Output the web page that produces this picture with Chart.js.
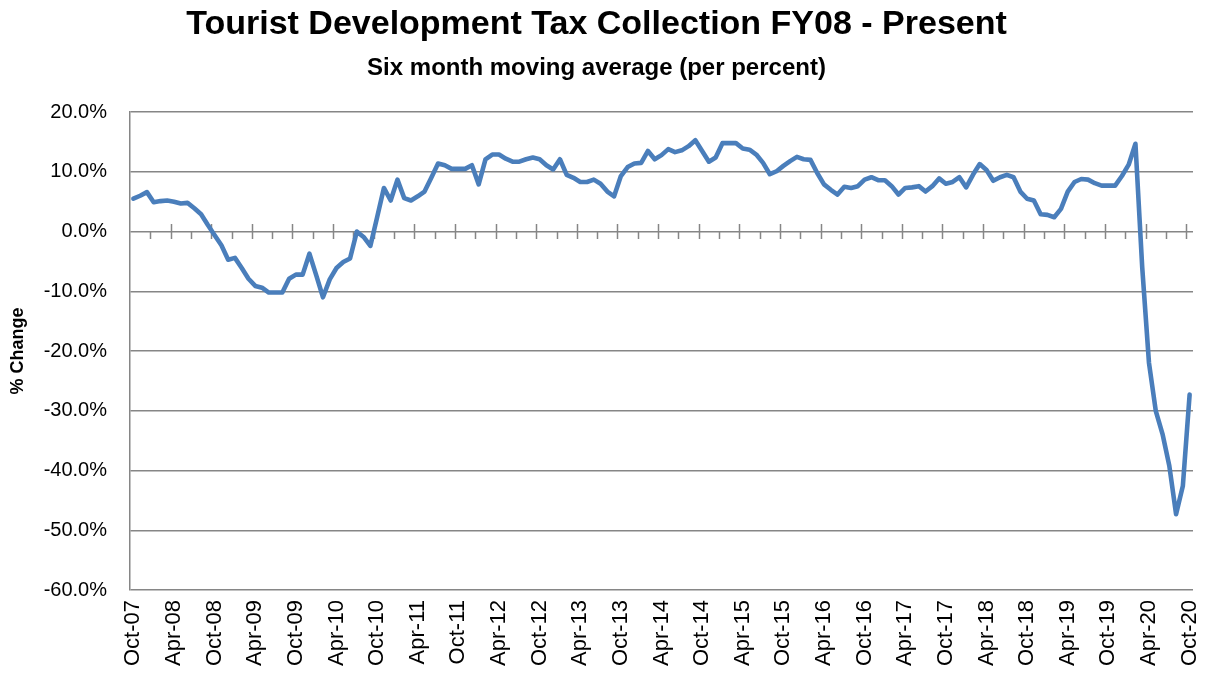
<!DOCTYPE html>
<html>
<head>
<meta charset="utf-8">
<title>Tourist Development Tax Collection FY08 - Present</title>
<script src="https://cdn.jsdelivr.net/npm/chart.js@4.4.1/dist/chart.umd.min.js"></script>
<style>
  html, body { margin: 0; padding: 0; background: #fff; }
  canvas { display: block; }
</style>
</head>
<body>
<canvas id="tdt" width="1209" height="673"></canvas>
<script>
// monthly categories, Oct-07 .. Oct-20
const monthNames = ["Jan", "Feb", "Mar", "Apr", "May", "Jun", "Jul", "Aug", "Sep", "Oct", "Nov", "Dec"];
const months = [];
for (let yr = 2007; yr <= 2020; yr++) {
  for (let m = 0; m < 12; m++) {
    if (yr === 2007 && m < 9) continue;
    if (yr === 2020 && m > 9) continue;
    months.push(monthNames[m] + "-" + String(yr).slice(2));
  }
}

// labels shown on the axis (every six months)
const tickLabels = [
  "Oct-07", "Apr-08", "Oct-08", "Apr-09", "Oct-09", "Apr-10", "Oct-10", "Apr-11", "Oct-11",
  "Apr-12", "Oct-12", "Apr-13", "Oct-13", "Apr-14", "Oct-14", "Apr-15", "Oct-15", "Apr-16",
  "Oct-16", "Apr-17", "Oct-17", "Apr-18", "Oct-18", "Apr-19", "Oct-19", "Apr-20", "Oct-20"
];

// six month moving average, % change
const pctChange = [
  5.5, 6.0, 6.6, 4.9, 5.1, 5.2, 5.0, 4.7, 4.8, 3.9, 2.9, 1.1,
  -0.6, -2.3, -4.7, -4.4, -6.1, -7.9, -9.1, -9.4, -10.2, -10.2, -10.2, -7.9,
  -7.2, -7.2, -3.7, -7.3, -11.0, -8.0, -6.1, -5.1, -4.5, 0.0, -0.9, -2.4,
  2.4, 7.3, 5.2, 8.7, 5.6, 5.2, 5.9, 6.7, 9.0, 11.4, 11.1, 10.5,
  10.5, 10.5, 11.1, 7.9, 12.1, 12.9, 12.9, 12.2, 11.7, 11.7, 12.1, 12.4,
  12.1, 11.1, 10.4, 12.1, 9.5, 9.0, 8.3, 8.3, 8.7, 8.0, 6.7, 5.9,
  9.3, 10.8, 11.4, 11.5, 13.5, 12.1, 12.8, 13.8, 13.3, 13.6, 14.3, 15.3,
  13.5, 11.7, 12.4, 14.8, 14.8, 14.8, 13.9, 13.7, 12.9, 11.5, 9.6, 10.1,
  11.0, 11.8, 12.5, 12.1, 12.0, 9.8, 7.9, 7.0, 6.2, 7.5, 7.3, 7.6,
  8.7, 9.1, 8.6, 8.6, 7.6, 6.2, 7.3, 7.4, 7.6, 6.7, 7.6, 8.9,
  8.0, 8.3, 9.1, 7.4, 9.5, 11.3, 10.3, 8.5, 9.1, 9.5, 9.1, 6.7,
  5.5, 5.2, 2.9, 2.8, 2.4, 3.8, 6.7, 8.3, 8.8, 8.7, 8.1, 7.7,
  7.7, 7.7, 9.3, 11.2, 14.7, -6.0, -22.0, -30.0, -33.9, -39.2, -47.3, -42.6,
  -27.3
];

const gridColour = "#868686";
const lineColour = "rgb(74, 126, 187)";

// small tick marks along the 0% line: long ones every 6 months, short ones in between
const zeroTicks = {
  id: "zeroTicks",
  beforeDatasetsDraw(chart) {
    const { ctx, scales: { x, y } } = chart;
    const y0 = Math.round(y.getPixelForValue(0));
    ctx.save();
    ctx.strokeStyle = gridColour;
    ctx.lineWidth = 1.5;
    ctx.beginPath();
    for (let k = 3; k < months.length; k += 3) {
      const px = Math.round(x.getPixelForValue(k - 0.5)) + 0.5;
      ctx.moveTo(px, k % 6 === 0 ? y0 - 8 : y0);
      ctx.lineTo(px, y0 + 7);
    }
    ctx.stroke();
    ctx.restore();
  }
};

Chart.defaults.font.family = "'Liberation Sans', Arial, sans-serif";
Chart.defaults.color = "#000";

new Chart(document.getElementById("tdt"), {
  type: "line",
  data: {
    labels: months,
    datasets: [{
      data: pctChange,
      borderColor: lineColour,
      borderWidth: 4.6,
      borderJoinStyle: "round",
      borderCapStyle: "round",
      pointRadius: 0,
      tension: 0,
      fill: false
    }]
  },
  options: {
    responsive: false,
    animation: false,
    layout: { padding: { top: 0, right: 16, bottom: 0, left: 0 } },
    plugins: {
      legend: { display: false },
      tooltip: { enabled: false },
      title: {
        display: true,
        text: "Tourist Development Tax Collection FY08 - Present",
        color: "#000",
        font: { size: 34, weight: "bold", lineHeight: 1.2 },
        padding: { top: 4, bottom: 0 }
      },
      subtitle: {
        display: true,
        text: "Six month moving average (per percent)",
        color: "#000",
        font: { size: 24, weight: "bold", lineHeight: 1.2 },
        padding: { top: 9, bottom: 29.5 }
      }
    },
    scales: {
      x: {
        type: "category",
        offset: true,
        afterFit(scale) {
          scale.height = 83;
          scale.paddingLeft = 0;
          scale.paddingRight = 0;
        },
        grid: { display: false, drawTicks: false },
        border: { display: false },
        ticks: {
          autoSkip: false,
          minRotation: 90,
          maxRotation: 90,
          padding: 10,
          font: { size: 22 },
          callback(value, index) {
            const lbl = months[index];
            return tickLabels.includes(lbl) && index % 6 === 0 ? lbl : "";
          }
        }
      },
      y: {
        min: -60,
        max: 20,
        afterFit(scale) { scale.width = 130; },
        grid: { color: gridColour, lineWidth: 1.5, drawTicks: false },
        border: { display: true, color: gridColour, width: 1.5 },
        ticks: {
          stepSize: 10,
          padding: 23,
          font: { size: 20 },
          callback: (v) => v.toFixed(1) + "%"
        },
        title: {
          display: true,
          text: "% Change",
          font: { size: 18, weight: "bold" },
          padding: { top: 7, bottom: 0 }
        }
      }
    }
  },
  plugins: [zeroTicks]
});
</script>
</body>
</html>
